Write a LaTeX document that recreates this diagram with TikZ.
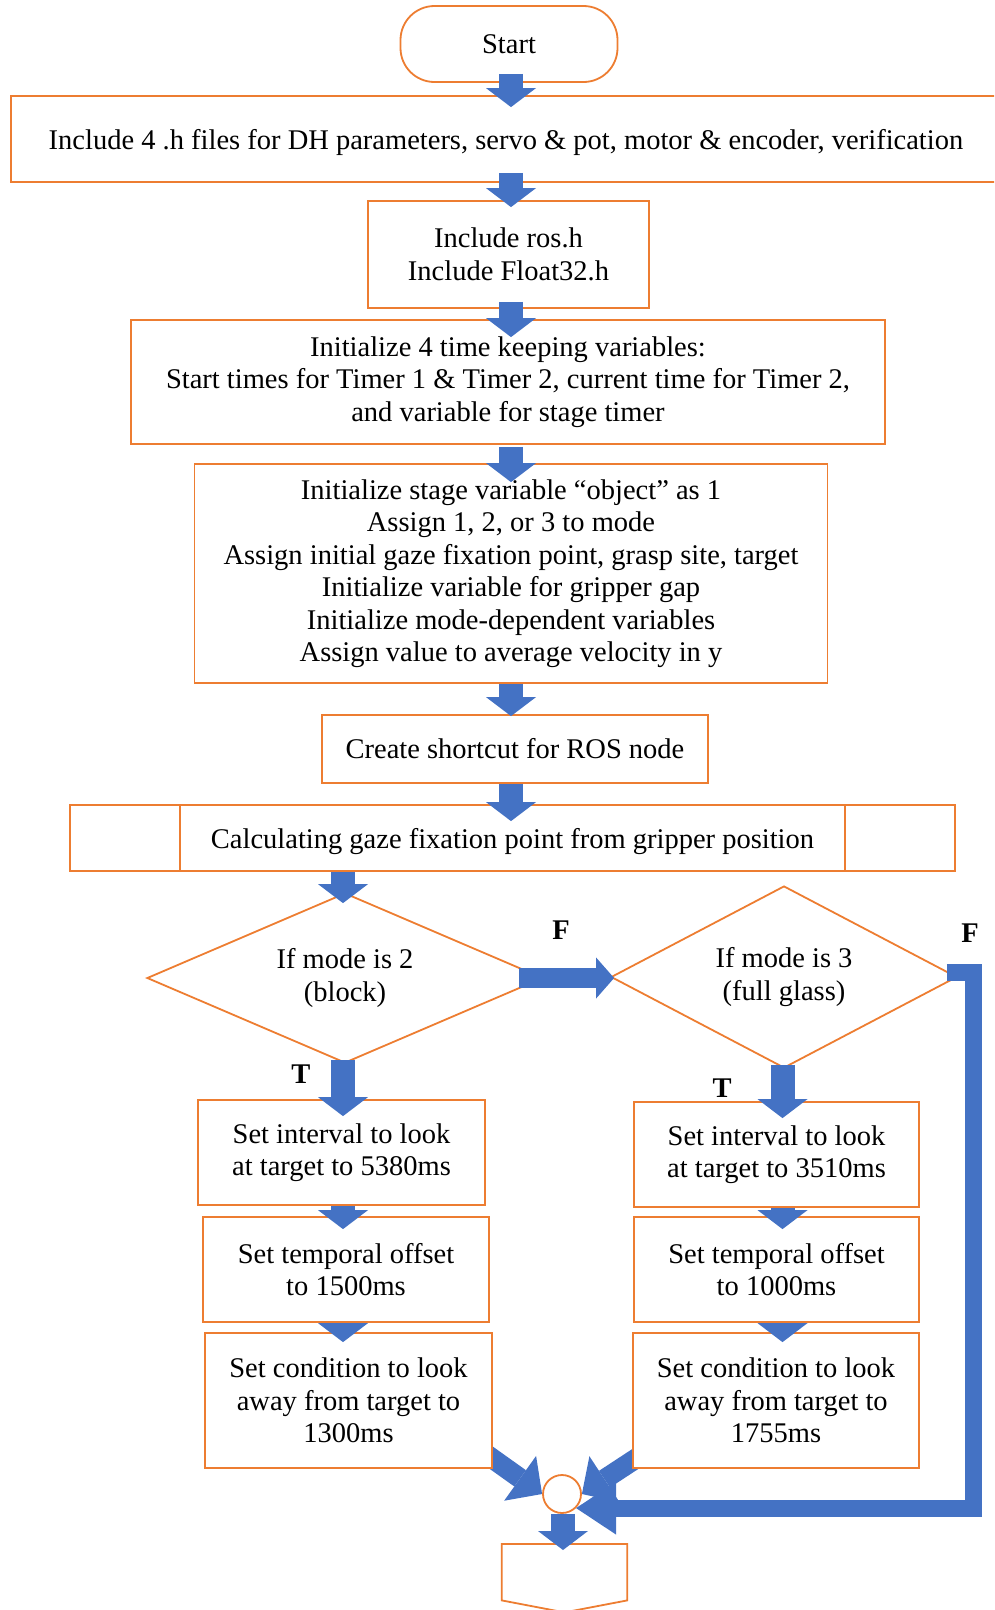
\documentclass[tikz,border=0pt]{standalone}
\usepackage{fontspec}
\setmainfont{Liberation Serif}
\usetikzlibrary{arrows.meta,shapes.geometric}
\definecolor{flowline}{HTML}{ED7D31}
\definecolor{flowblue}{HTML}{4472C4}
\pgfdeclarelayer{behind}
\pgfsetlayers{behind,main}
\begin{document}
\begin{tikzpicture}[x=1pt,y=-1pt,
  every node/.style={font=\fontsize{28.5}{32.5}\selectfont, align=center, inner sep=0pt},
  boxline/.style={draw=flowline, line width=1.8pt},
  box/.style={boxline, fill=white, rectangle},
  decision/.style={boxline, fill=white, diamond},
  lbl/.style={font=\fontsize{28.5}{32.5}\selectfont\bfseries},
  blk/.style={draw=flowblue, line width=24pt, line cap=butt,
    -{Triangle[width=50pt,length=19pt,line width=0pt]}},
  blkh/.style={draw=flowblue, line width=20pt, line cap=butt,
    -{Triangle[width=41pt,length=18pt,line width=0pt]}},
  blkd/.style={draw=flowblue, line width=20pt, line cap=butt,
    -{Triangle[width=55pt,length=27pt,line width=0pt]}},
  loopar/.style={draw=flowblue, line width=17pt, line cap=butt, line join=miter,
    -{Triangle[width=53pt,length=40pt,line width=0pt]}}
]
\useasboundingbox (0,0) rectangle (994,1610);
\clip (0,0) rectangle (994,1610);

% main column
\node[box, rounded corners=34pt, minimum width=217pt, minimum height=76pt] (start) at (509,44) {Start};
\node[box, minimum width=990pt, minimum height=86pt, text depth=0pt] (inc4) at (506,139)
  {Include 4 .h files for DH parameters, servo \& pot, motor \& encoder, verification};
\node[box, minimum width=281pt, minimum height=107pt] (incros) at (508.5,254.5)
  {Include ros.h\\Include Float32.h};
\node[box, minimum width=754pt, minimum height=124pt] (inittime) at (508,382)
  {Initialize 4 time keeping variables:\\Start times for Timer 1 \& Timer 2, current time for Timer 2,\\and variable for stage timer};
\node[box, minimum width=633pt, minimum height=219pt] (initstage) at (511,573.5)
  {Initialize stage variable “object” as 1\\Assign 1, 2, or 3 to mode\\Assign initial gaze fixation point, grasp site, target\\Initialize variable for gripper gap\\Initialize mode-dependent variables\\Assign value to average velocity in y};
\node[box, minimum width=386pt, minimum height=68pt] (ros) at (515,749)
  {Create shortcut for ROS node};
\node[box, minimum width=885pt, minimum height=66pt, text depth=0pt] (gaze) at (512.5,838)
  {Calculating gaze fixation point from gripper position};
\draw[boxline] ([xshift=111pt]gaze.north west) -- ([xshift=111pt]gaze.south west);
\draw[boxline] ([xshift=-111pt]gaze.north east) -- ([xshift=-111pt]gaze.south east);

% decisions
\node[decision, aspect=2.33, minimum width=396pt, minimum height=170pt] (d1) at (345,978)
  {If mode is 2\\(block)};
\node[decision, aspect=1.9, minimum width=346pt, minimum height=182pt] (d2) at (784,977)
  {If mode is 3\\(full glass)};

% mode 2 branch
\node[box, minimum width=287pt, minimum height=105pt] (L1) at (341.5,1152.5)
  {Set interval to look\\at target to 5380ms};
\node[box, minimum width=286pt, minimum height=105pt] (L2) at (346,1269.5)
  {Set temporal offset\\to 1500ms};
\node[box, minimum width=287pt, minimum height=135pt] (L3) at (348.5,1400.5)
  {Set condition to look\\away from target to\\1300ms};

% mode 3 branch
\node[box, minimum width=285pt, minimum height=105pt] (R1) at (776.5,1154.5)
  {Set interval to look\\at target to 3510ms};
\node[box, minimum width=285pt, minimum height=105pt] (R2) at (776.5,1269.5)
  {Set temporal offset\\to 1000ms};
\node[box, minimum width=286pt, minimum height=135pt] (R3) at (776,1400.5)
  {Set condition to look\\away from target to\\1755ms};

% join and off-page connector
\node[boxline, fill=white, circle, minimum size=38pt] (join) at (562,1494) {};
\node[minimum width=125pt, minimum height=68pt, anchor=north] (offpage) at (564.5,1544) {};
\draw[boxline, fill=white] (offpage.north west) -- (offpage.north east)
  -- ([yshift=12pt]offpage.south east) -- (offpage.south)
  -- ([yshift=12pt]offpage.south west) -- cycle;

% branch labels
\node[lbl] (f1) at (561,930) {F};
\node[lbl] (f2) at (970,933) {F};
\node[lbl] (t1) at (301,1074) {T};
\node[lbl] (t2) at (722,1088) {T};

% flow arrows
\draw[blk] ([xshift=2pt,yshift=9pt]start.south) -- ([xshift=5pt,yshift=-12pt]inc4.north);
\draw[blk] ([xshift=5pt,yshift=10pt]inc4.south) -- ([xshift=2.5pt,yshift=-7pt]incros.north);
\draw[blk] ([xshift=2.5pt,yshift=7pt]incros.south) -- ([xshift=3pt,yshift=-18pt]inittime.north);
\draw[blk] ([xshift=3pt,yshift=-2pt]inittime.south) -- ([yshift=-19pt]initstage.north);
\draw[blk] (initstage.south) -- ([xshift=-4pt,yshift=-2pt]ros.north);
\draw[blk] ([xshift=-4pt]ros.south) -- ([xshift=-1.5pt,yshift=-17pt]gaze.north);
\draw[blk] ([xshift=-169.5pt]gaze.south) -- ([xshift=-2pt,yshift=-11pt]d1.north);

\draw[blk] ([xshift=-2pt,yshift=4pt]d1.south) -- ([xshift=1.5pt,yshift=-17pt]L1.north);
\draw[blk] ([xshift=1.5pt]L1.south) -- ([xshift=-3pt,yshift=-13pt]L2.north);
\draw[blk] ([xshift=-3pt]L2.south) -- ([xshift=-5.5pt,yshift=-10pt]L3.north);

\draw[blk] ([xshift=-1.5pt,yshift=4pt]d2.south) -- ([xshift=6pt,yshift=-17pt]R1.north);
\draw[blk] ([xshift=6pt]R1.south) -- ([xshift=6pt,yshift=-13pt]R2.north);
\draw[blk] ([xshift=6pt]R2.south) -- ([xshift=6.5pt,yshift=-10pt]R3.north);

\draw[blkh] ([xshift=-25pt]d1.east) -- ([xshift=4pt,yshift=-1pt]d2.west);
\draw[loopar] ([xshift=-11pt,yshift=5pt]d2.east) -- ++(27,0) |- (join.-45);
\draw[blk] ([xshift=1pt]join.south) -- ([xshift=-1.5pt,yshift=-6pt]offpage.north);

\begin{pgfonlayer}{behind}
\draw[blkd] ([xshift=-14pt,yshift=20pt]L3.south east) -- (join.west);
\draw[blkd] ([xshift=14pt,yshift=17pt]R3.south west) -- (join.east);
\end{pgfonlayer}
\end{tikzpicture}
\end{document}
